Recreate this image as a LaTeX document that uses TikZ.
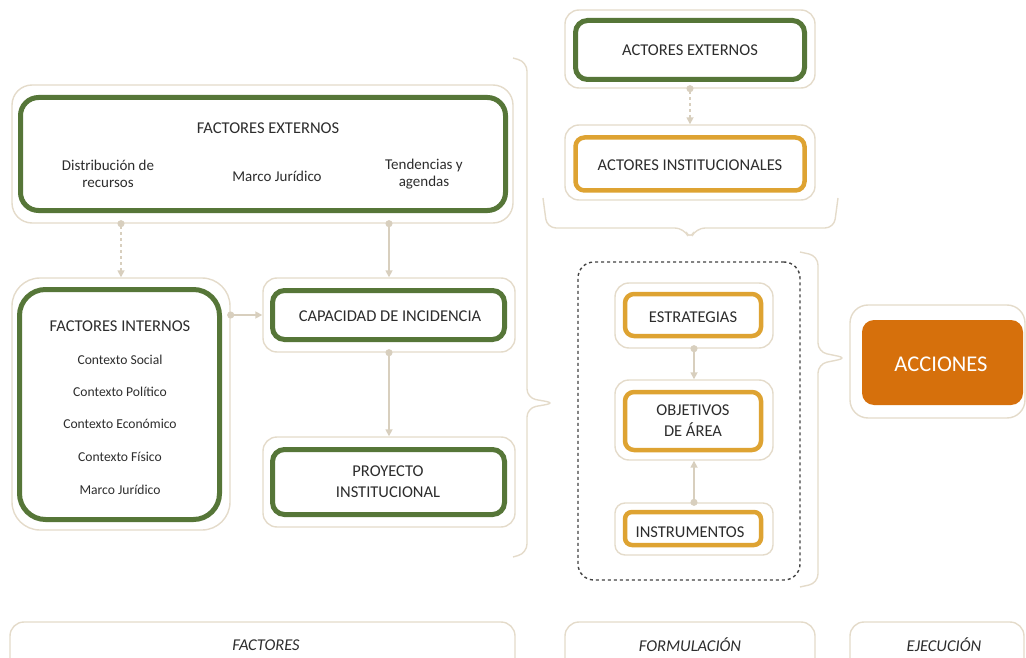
\documentclass[tikz,border=0pt]{standalone}
\usepackage{fontspec}
\setmainfont{Carlito}
\usetikzlibrary{positioning,calc,arrows.meta,shapes.misc}
\definecolor{verde}{RGB}{86,118,56}
\definecolor{oro}{RGB}{222,163,50}
\definecolor{naranja}{RGB}{214,112,12}
\definecolor{marco}{RGB}{228,219,202}
\definecolor{enlace}{RGB}{216,207,190}
\definecolor{texto}{RGB}{45,45,45}

\begin{document}
\begin{tikzpicture}[x=1pt,y=-1pt,
  shell/.style={draw=marco, line width=1.4pt, rounded corners=14pt, fill=white},
  gbox/.style={draw=verde, line width=5pt, rounded corners=12pt},
  obox/.style={draw=oro, line width=4.5pt, rounded corners=9pt},
  head/.style={text=texto, align=center, font=\fontsize{16.5}{21}\selectfont},
  item/.style={text=texto, align=center, font=\fontsize{15}{17}\selectfont},
  small/.style={text=texto, align=center, font=\fontsize{13.6}{16}\selectfont},
  etapa/.style={text=texto, font=\fontsize{16.5}{19}\selectfont\itshape},
  link/.style={draw=enlace, line width=1.6pt, shorten <=-3.5pt,
    {Circle[length=7pt]}-{Triangle[length=7pt,width=7pt]}},
  llave/.style={draw=marco, line width=1.4pt, rounded corners=9pt}]
\useasboundingbox (0,0) rectangle (1026,658);

% factores externos
\node[shell, rounded corners=20pt, minimum width=501pt, minimum height=138pt] (extO) at (262.5,154) {};
\node[gbox, rounded corners=18pt, minimum width=485pt, minimum height=113pt] (ext) at (263,154) {};
\node[head] (extT) at (268,128) {FACTORES EXTERNOS};
\node[item] (ext1) at (108,174) {Distribución de\\recursos};
\node[item] (ext2) at (277,176) {Marco Jurídico};
\node[item] (ext3) at (424,174) {Tendencias y\\agendas};

% factores internos
\node[shell, rounded corners=28pt, minimum width=218pt, minimum height=252pt] (intO) at (121,404) {};
\node[gbox, rounded corners=26pt, minimum width=200pt, minimum height=230pt] (int) at (119.5,404.5) {};
\node[head] (intT) at (120,326) {FACTORES INTERNOS};
\node[small] (int1) at (120,360) {Contexto Social};
\node[small] (int2) at (120,392) {Contexto Político};
\node[small] (int3) at (120,424) {Contexto Económico};
\node[small] (int4) at (120,457) {Contexto Físico};
\node[small] (int5) at (120,490) {Marco Jurídico};

% capacidad y proyecto
\node[shell, minimum width=252pt, minimum height=74pt] (capO) at (389,315) {};
\node[gbox, minimum width=232pt, minimum height=49pt] (cap) at (388.5,315) {};
\node[head] (capT) at (390,316) {CAPACIDAD DE INCIDENCIA};
\node[shell, minimum width=252pt, minimum height=90pt] (proO) at (389,482) {};
\node[gbox, minimum width=232pt, minimum height=65pt] (pro) at (388.5,482) {};
\node[head] (proT) at (388,482) {PROYECTO\\INSTITUCIONAL};

% actores
\node[shell, minimum width=250pt, minimum height=78pt] (aeO) at (690,49) {};
\node[gbox, minimum width=229pt, minimum height=59pt] (ae) at (690,50) {};
\node[head] (aeT) at (690,50) {ACTORES EXTERNOS};
\node[shell, minimum width=250pt, minimum height=75pt] (aiO) at (690,162.5) {};
\node[obox, minimum width=229pt, minimum height=53pt] (ai) at (690,164) {};
\node[head] (aiT) at (690,165) {ACTORES INSTITUCIONALES};

% formulacion
\node[draw=texto!90, dashed, line width=1.4pt, rounded corners=16pt,
  minimum width=222pt, minimum height=318pt] (form) at (689,421) {};
\node[shell, minimum width=158pt, minimum height=65pt] (esO) at (694,315.5) {};
\node[obox, minimum width=136pt, minimum height=42pt] (es) at (693,315) {};
\node[head] (esT) at (693,317) {ESTRATEGIAS};
\node[shell, minimum width=158pt, minimum height=80pt] (obO) at (694,420) {};
\node[obox, minimum width=136pt, minimum height=58pt] (ob) at (693,421) {};
\node[head] (obT) at (693,421) {OBJETIVOS\\DE ÁREA};
\node[shell, rounded corners=10pt, minimum width=158pt, minimum height=52pt] (inO) at (694,529) {};
\node[obox, rounded corners=7pt, minimum width=136pt, minimum height=33pt] (ins) at (693,528.5) {};
\node[head] (insT) at (690,532) {INSTRUMENTOS};

% acciones
\node[shell, rounded corners=18pt, minimum width=175pt, minimum height=113pt] (acO) at (937.5,361.5) {};
\node[fill=naranja, rounded corners=12pt, minimum width=161pt, minimum height=85pt] (ac) at (942.5,362.5) {};
\node[text=white, font=\fontsize{22.5}{26}\selectfont] (acT) at (941,364) {ACCIONES};

% enlaces
\draw[link, dashed] (extO.south -| intO.north) -- (intO.north);
\draw[link] (extO.south -| capO.north) -- (capO.north);
\draw[link] (intO.east |- capO.west) -- (capO.west);
\draw[link] (capO.south) -- (proO.north);
\draw[link, dashed] (aeO.south) -- (aiO.north);
\draw[link] (esO.south) -- (obO.north);
\draw[link] (inO.north) -- (obO.south);

% llaves
\draw[llave] (513,58) -- (527,62) -- (527,398) -- (555,403) -- (527,408) -- (527,553) -- (513,557);
\draw[llave] (543,198) -- (547,228) -- (684,228) -- (690,240) -- (696,228) -- (834,228) -- (838,198);
\draw[llave] (800,252) -- (818,256) -- (818,352) -- (847,358) -- (818,364) -- (818,583) -- (800,587);

% etapas
\node[shell, minimum width=505pt, minimum height=50pt] (fac) at (262.5,647) {};
\node[etapa] (facT) at (266,645) {FACTORES};
\node[shell, minimum width=250pt, minimum height=50pt] (fml) at (690,647) {};
\node[etapa] (fmlT) at (690,645) {FORMULACIÓN};
\node[shell, minimum width=174pt, minimum height=50pt] (eje) at (937,647) {};
\node[etapa] (ejeT) at (944,645) {EJECUCIÓN};
\end{tikzpicture}
\end{document}
